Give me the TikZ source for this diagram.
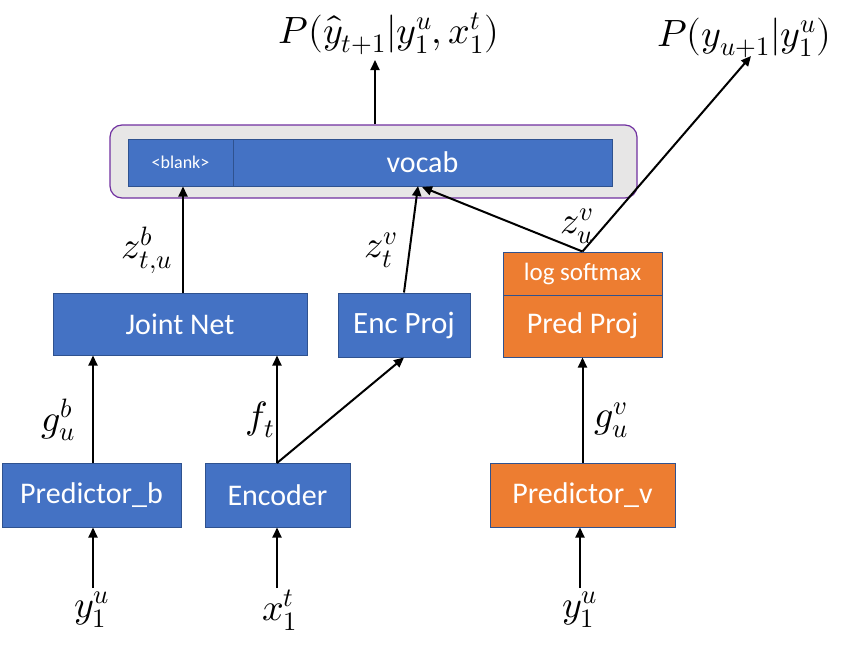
\documentclass[tikz,border=0pt]{standalone}
\usepackage{fontspec}
\usepackage{unicode-math}
\setmainfont{Carlito}
\setmathfont{Latin Modern Math}
\usetikzlibrary{arrows.meta}
\definecolor{bfill}{HTML}{4472C4}
\definecolor{ofill}{HTML}{ED7D31}
\definecolor{bedge}{HTML}{2F528F}
\definecolor{gfill}{HTML}{E7E6E6}
\definecolor{pedge}{HTML}{7030A0}
\begin{document}
\begin{tikzpicture}[x=1pt,y=-1pt,
  box/.style={draw=bedge,line width=1pt,inner sep=0pt,text=white,font=\fontsize{30}{34}\selectfont},
  bbox/.style={box,fill=bfill},
  obox/.style={box,fill=ofill},
  arr/.style={line width=2pt,-{Triangle[length=10pt,width=9pt]}},
  lab/.style={inner sep=0pt,font=\fontsize{38}{44}\selectfont}]
\useasboundingbox (0,0) rectangle (858,645);
% outer container
\node[draw=pedge,line width=1.2pt,fill=gfill,rounded corners=12pt,minimum width=527pt,minimum height=73pt,inner sep=0pt] (outer) at (373.5,161.5) {};
\node[bbox,minimum width=105pt,minimum height=47pt,font=\fontsize{18}{22}\selectfont] (blank) at (180.5,162.5) {<blank>};
\node[bbox,minimum width=379pt,minimum height=47pt] (vocab) at (422.5,162.5) {vocab};
% middle row
\node[bbox,minimum width=254pt,minimum height=62pt] (jn) at (180,324) {Joint Net};
\node[bbox,minimum width=132pt,minimum height=64pt,font=\fontsize{31}{36}\selectfont] (ep) at (404,325) {Enc Proj};
\node[obox,minimum width=159pt,minimum height=43pt,font=\fontsize{25}{30}\selectfont] (ls) at (582.5,273.5) {log softmax};
\node[obox,minimum width=159pt,minimum height=62pt] (pp) at (582.5,326) {Pred Proj};
% bottom row
\node[bbox,minimum width=179pt,minimum height=64pt] (pb) at (91.5,495) {Predictor\_b};
\node[bbox,minimum width=145pt,minimum height=64pt] (enc) at (277.5,495) {Encoder};
\node[obox,minimum width=185pt,minimum height=64pt] (pv) at (582.5,495) {Predictor\_v};
% inputs
\node[lab] (in1) at (92,610) {$y_1^u$};
\node[lab] (in2) at (280,610) {$x_1^t$};
\node[lab] (in3) at (580,610) {$y_1^u$};
\coordinate (t1) at (93,588);
\coordinate (t2) at (277,588);
\coordinate (t3) at (580,588);
\draw[arr] (t1) -- (t1 |- pb.south);
\draw[arr] (t2) -- (t2 |- enc.south);
\draw[arr] (t3) -- (t3 |- pv.south);
% outputs
\node[lab] (p1) at (389,34) {$P(\hat{y}_{t+1}|y_1^u,x_1^t)$};
\node[lab] (p2) at (744,38) {$P(y_{u+1}|y_1^u)$};
\coordinate (o1) at (375,60);
\coordinate (o2) at (751,56);
\draw[arr] (outer.north -| o1) -- (o1);
% connectors
\coordinate (pbt) at (93,463);
\draw[arr] (pbt) -- (pbt |- jn.south);
\coordinate (enct) at (277,463);
\draw[arr] (enct) -- (enct |- jn.south);
\draw[arr] (enct) -- (ep.south);
\draw[arr] (pv.north) -- (pv.north |- pp.south);
\coordinate (jnt) at (183,293);
\draw[arr] (jnt) -- (jnt |- blank.south);
\coordinate (vin1) at (418,186);
\coordinate (vin2) at (422,187);
\draw[arr] (ep.north) -- (vin1);
\draw[arr] (ls.north) -- (vin2);
\draw[arr] (ls.north) -- (o2);
% labels
\node[lab] (lg1) at (58,420) {$g_u^b$};
\node[lab] (lf) at (260,420) {$f_t$};
\node[lab] (lg2) at (611,420) {$g_u^v$};
\node[lab] (lz1) at (147,250) {$z_{t,u}^b$};
\node[lab] (lz2) at (381,250) {$z_t^v$};
\node[lab] (lz3) at (577,226) {$z_u^v$};
\end{tikzpicture}
\end{document}
